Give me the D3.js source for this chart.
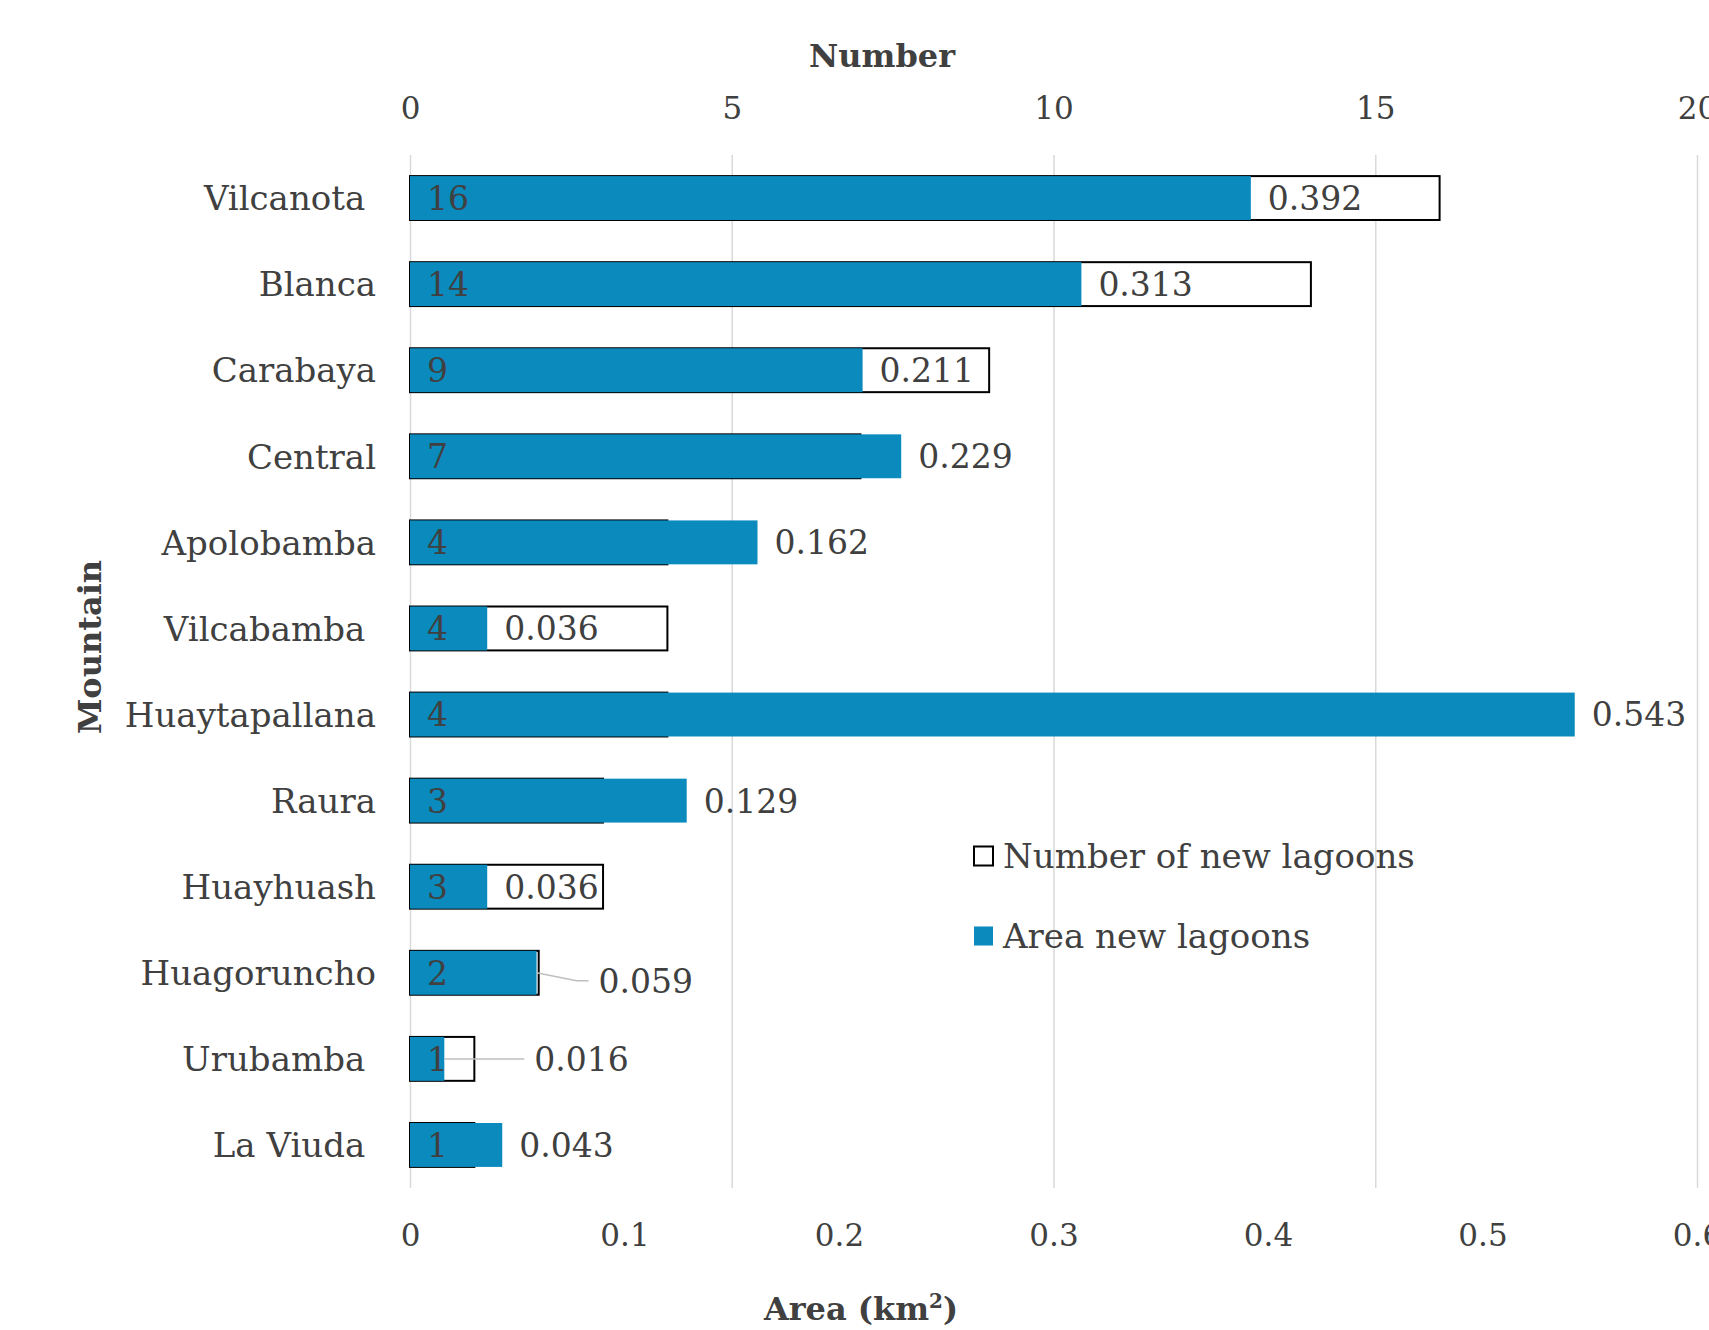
<!DOCTYPE html>
<html>
<head>
<meta charset="utf-8">
<script src="https://cdn.jsdelivr.net/npm/d3@7"></script>
<style>
  html, body { margin: 0; padding: 0; background: #fff; }
  svg { display: block; }
  text { font-family: "DejaVu Serif", serif; fill: #404040; }
</style>
</head>
<body>
<svg id="chart" width="1709" height="1330"></svg>
<script>
// Mountain ranges (trailing spaces kept as in the source table)
const categories = ["Vilcanota ", "Blanca", "Carabaya", "Central", "Apolobamba", "Vilcabamba ",
  "Huaytapallana", "Raura", "Huayhuash", "Huagoruncho", "Urubamba ", "La Viuda "];
// Number of new lagoons per range
const numberValues = [16, 14, 9, 7, 4, 4, 4, 3, 3, 2, 1, 1];
// Area of new lagoons per range (km²)
const areaValues = [0.392, 0.313, 0.211, 0.229, 0.162, 0.036, 0.543, 0.129, 0.036, 0.059, 0.016, 0.043];
// Axis ticks
const numberTicks = [0, 5, 10, 15, 20];
const areaTicks = [0, 0.1, 0.2, 0.3, 0.4, 0.5, 0.6];

const rows = categories.map((c, i) => ({ name: c, n: numberValues[i], a: areaValues[i] }));

const svg = d3.select("#chart");
const plotLeft = 410, plotRight = 1697, plotTop = 155, plotBottom = 1188;
const blue = "#0b8abd";
const textColor = "#404040";

const xNum = d3.scaleLinear().domain([0, 20]).range([plotLeft, plotRight]);
const xArea = d3.scaleLinear().domain([0, 0.6]).range([plotLeft, plotRight]);
const y = d3.scaleBand().domain(categories).range([plotTop, plotBottom])
  .paddingInner(0.49).paddingOuter(0.245);

// vertical gridlines at the number ticks
svg.append("g")
  .attr("transform", `translate(0,${plotTop})`)
  .call(d3.axisBottom(xNum).tickValues(numberTicks).tickSize(plotBottom - plotTop).tickFormat(""))
  .call(g => g.select(".domain").remove())
  .call(g => g.selectAll("line").attr("stroke", "#d9d9d9").attr("stroke-width", 1.5));

// top axis: Number
svg.append("g")
  .attr("transform", `translate(0,108)`)
  .call(d3.axisTop(xNum).tickValues(numberTicks).tickSize(0).tickPadding(0).tickFormat(d => String(d)))
  .call(g => g.select(".domain").remove())
  .call(g => g.selectAll("text").attr("y", 0).attr("dy", "0.36em")
    .style("font-size", "31px").style("font-family", "DejaVu Serif").attr("fill", textColor));

// bottom axis: Area
svg.append("g")
  .attr("transform", `translate(0,1235)`)
  .call(d3.axisBottom(xArea).tickValues(areaTicks).tickSize(0).tickPadding(0).tickFormat(d => String(d)))
  .call(g => g.select(".domain").remove())
  .call(g => g.selectAll("text").attr("y", 0).attr("dy", "0.36em")
    .style("font-size", "31px").style("font-family", "DejaVu Serif").attr("fill", textColor));

// category labels
svg.append("g")
  .selectAll("text")
  .data(rows)
  .join("text")
  .attr("x", 376)
  .attr("y", d => y(d.name) + y.bandwidth() / 2)
  .attr("dy", "0.36em")
  .attr("text-anchor", "end")
  .attr("xml:space", "preserve")
  .style("white-space", "pre")
  .style("font-size", "34px")
  .text(d => d.name);

// number bars (outlined)
svg.append("g")
  .selectAll("rect")
  .data(rows)
  .join("rect")
  .attr("x", xNum(0))
  .attr("y", d => y(d.name))
  .attr("width", d => xNum(d.n) - xNum(0))
  .attr("height", y.bandwidth())
  .attr("fill", "#fff")
  .attr("stroke", "#000")
  .attr("stroke-width", 2);

// area bars (filled, on top)
svg.append("g")
  .selectAll("rect")
  .data(rows)
  .join("rect")
  .attr("x", xArea(0))
  .attr("y", d => y(d.name))
  .attr("width", d => xArea(d.a) - xArea(0))
  .attr("height", y.bandwidth())
  .attr("fill", blue);

// number labels inside the bars
svg.append("g")
  .selectAll("text")
  .data(rows)
  .join("text")
  .attr("x", xNum(0) + 17)
  .attr("y", d => y(d.name) + y.bandwidth() / 2)
  .attr("dy", "0.36em")
  .style("font-size", "33px")
  .text(d => d.n);

// area labels, a couple pushed aside with leader lines
const labelShift = { "Huagoruncho": [45, 8], "Urubamba ": [73, 0] };
const labelPos = d => {
  const s = labelShift[d.name] || [0, 0];
  return [xArea(d.a) + 17 + s[0], y(d.name) + y.bandwidth() / 2 + s[1]];
};

svg.append("g")
  .selectAll("path")
  .data(rows.filter(d => labelShift[d.name]))
  .join("path")
  .attr("d", d => {
    const [lx, ly] = labelPos(d);
    const cy = y(d.name) + y.bandwidth() / 2;
    return d3.line()([[xArea(d.a), cy], [lx - 22, ly], [lx - 10, ly]]);
  })
  .attr("fill", "none")
  .attr("stroke", "#bfbfbf")
  .attr("stroke-width", 1.5);

svg.append("g")
  .selectAll("text")
  .data(rows)
  .join("text")
  .attr("x", d => labelPos(d)[0])
  .attr("y", d => labelPos(d)[1])
  .attr("dy", "0.36em")
  .style("font-size", "33px")
  .text(d => d3.format(".3f")(d.a));

// axis titles
svg.append("text")
  .attr("x", 882).attr("y", 55).attr("dy", "0.36em")
  .attr("text-anchor", "middle")
  .style("font-size", "32px").style("font-weight", "bold")
  .text("Number");

const areaTitle = svg.append("text")
  .attr("x", 861).attr("y", 1308).attr("dy", "0.36em")
  .attr("text-anchor", "middle")
  .style("font-size", "32px").style("font-weight", "bold");
areaTitle.append("tspan").text("Area (km");
areaTitle.append("tspan").attr("baseline-shift", "super").style("font-size", "20px").text("2");
areaTitle.append("tspan").text(")");

svg.append("text")
  .attr("transform", "translate(89,647) rotate(-90)")
  .attr("dy", "0.36em")
  .attr("text-anchor", "middle")
  .style("font-size", "32px").style("font-weight", "bold")
  .text("Mountain");

// legend
const legend = svg.append("g");
const legendItems = [
  { label: "Number of new lagoons", fill: "#fff", stroke: "#000", cy: 856 },
  { label: "Area new lagoons", fill: blue, stroke: "none", cy: 936 }
];
legend.selectAll("rect")
  .data(legendItems)
  .join("rect")
  .attr("x", 974).attr("y", d => d.cy - 9.5)
  .attr("width", 19).attr("height", 19)
  .attr("fill", d => d.fill)
  .attr("stroke", d => d.stroke)
  .attr("stroke-width", 2);
legend.selectAll("text")
  .data(legendItems)
  .join("text")
  .attr("x", 1003).attr("y", d => d.cy).attr("dy", "0.36em")
  .style("font-size", "34px")
  .text(d => d.label);
</script>
</body>
</html>
